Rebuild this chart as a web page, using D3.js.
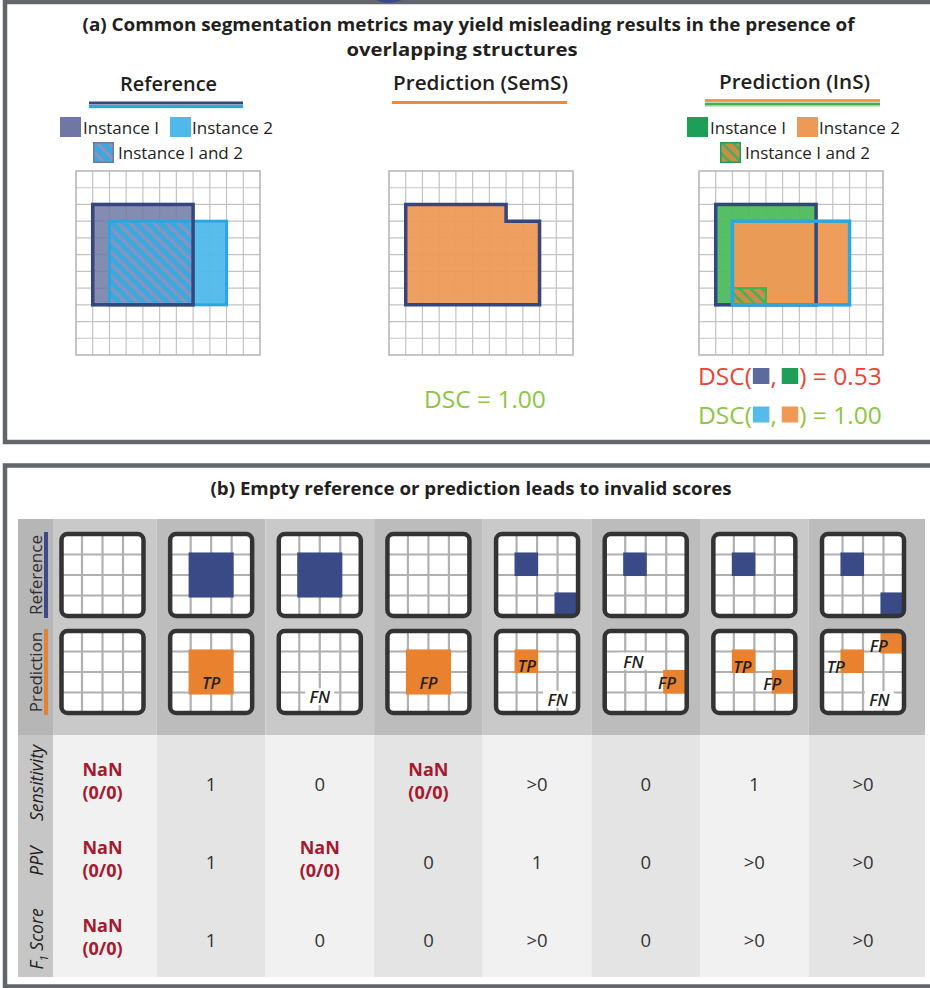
<!DOCTYPE html>
<html>
<head>
<meta charset="utf-8">
<script src="https://cdn.jsdelivr.net/npm/d3@7/dist/d3.min.js"></script>
<style>
html,body{margin:0;padding:0;background:#fff;}
svg{display:block;}
text{font-family:'Open Sans','DejaVu Sans',sans-serif;}
</style>
</head>
<body>
<svg id="chart" width="930" height="988"></svg>
<script>
// ---------------- DATA ----------------
const titleA = ["(a) Common segmentation metrics may yield misleading results in the presence of", "overlapping structures"];
const titleB = "(b) Empty reference or prediction leads to invalid scores";
const gridCells = 11;
const panelAHeaders = ["Reference", "Prediction (SemS)", "Prediction (InS)"];
const legendLabels = ["Instance I", "Instance 2", "Instance I and 2"];
const refInstances = [{x0:1,y0:2,x1:7,y1:8},{x0:2,y0:3,x1:9,y1:8}];
const semsOutline = [[1,2],[7,2],[7,3],[9,3],[9,8],[1,8]];
const insInstances = [{x0:1,y0:2,x1:7,y1:8},{x0:2,y0:3,x1:9,y1:8}];
const insOverlap = {x0:2,y0:7,x1:4,y1:8};
const dscSemS = "1.00";
const dscInS = ["0.53","1.00"];

const caseIds = [1,2,3,4,5,6,7,8];
const iconRows = ["Reference","Prediction"];
const refSquares = [
  [], [[0.9,0.9,2.2,2.2]], [[0.9,0.9,2.2,2.2]], [],
  [[0.9,0.9,1.15,1.15],[2.85,2.85,1.15,1.15]], [[0.9,0.9,1.15,1.15]],
  [[0.9,0.9,1.15,1.15]], [[0.9,0.9,1.15,1.15],[2.85,2.85,1.15,1.15]]
];
const predSquares = [
  [], [[0.9,0.9,2.2,2.2]], [], [[0.9,0.9,2.2,2.2]],
  [[0.9,0.9,1.15,1.15]], [[2.85,1.9,1.15,1.15]],
  [[0.9,0.9,1.15,1.15],[2.85,1.9,1.15,1.15]], [[0.9,0.9,1.15,1.15],[2.85,0.05,1.15,1.05]]
];
const predLabels = [
  [], [["TP",2,2.5]], [["FN",2,3.2]], [["FP",2,2.5]],
  [["TP",1.5,1.7],["FN",3,3.33]], [["FN",1.4,1.47],["FP",3.04,2.5]],
  [["TP",1.42,1.73],["FP",2.87,2.55]], [["TP",0.67,1.73],["FP",2.77,0.7],["FN",2.8,3.35]]
];
const metricNames = ["Sensitivity","PPV","F1 Score"];
const sensitivityVals = ["NaN (0/0)","1","0","NaN (0/0)",">0","0","1",">0"];
const ppvVals = ["NaN (0/0)","1","NaN (0/0)","0","1","0",">0",">0"];
const f1Vals = ["NaN (0/0)","1","0","0",">0","0",">0",">0"];

// ---------------- STYLE ----------------
const C = {
  frame:"#626569", navy:"#34467e", navyFill:"#6f78a5", lblue:"#2aa7df", lblueFill:"#4fb9e9",
  orange:"#ee9a56", orangeLine:"#ef8a3a", green:"#1e9f57", greenFill:"#4dbb5d", greenLine:"#3bb54a",
  red:"#ef4136", lime:"#8dc63f", iconBlue:"#394a86", iconOrange:"#e8822e", nan:"#a6192e", text:"#231f20"
};

const svg = d3.select("#chart");
const defs = svg.append("defs");
function hatch(id, base, stripe, period, w) {
  const p = defs.append("pattern").attr("id", id).attr("patternUnits","userSpaceOnUse")
    .attr("width", period).attr("height", period).attr("patternTransform","rotate(-45)");
  p.append("rect").attr("width",period).attr("height",period).attr("fill",base);
  p.append("rect").attr("width",w).attr("height",period).attr("fill",stripe);
}
hatch("hatchRef", "#3ea8de", "#8d92ba", 8.5, 3);
hatch("hatchIns", "#cf8c48", "#4aae57", 8, 2.8);

// ---------------- FRAMES ----------------
svg.append("rect").attr("x",5).attr("y",2).attr("width",960).attr("height",440)
  .attr("fill","none").attr("stroke",C.frame).attr("stroke-width",4.5);
svg.append("ellipse").attr("cx",389).attr("cy",-20).attr("rx",25).attr("ry",23).attr("fill","#3a4a8a");
svg.append("rect").attr("x",5).attr("y",465.5).attr("width",960).attr("height",521)
  .attr("fill","none").attr("stroke",C.frame).attr("stroke-width",4.5);

// ---------------- PANEL A ----------------
svg.append("text").attr("x",468.5).attr("y",31).attr("text-anchor","middle")
  .style("font-size","18px").style("font-weight",700).attr("fill",C.text)
  .attr("textLength",772).attr("lengthAdjust","spacingAndGlyphs").text(titleA[0]);
svg.append("text").attr("x",462).attr("y",56).attr("text-anchor","middle")
  .style("font-size","18px").style("font-weight",700).attr("fill",C.text)
  .attr("textLength",231).attr("lengthAdjust","spacingAndGlyphs").text(titleA[1]);

const headerPos = [{x:168.5,y:91,w:97},{x:480.5,y:90,w:175},{x:794.5,y:88.5,w:151}];
panelAHeaders.forEach((h,i)=>{
  svg.append("text").attr("x",headerPos[i].x).attr("y",headerPos[i].y).attr("text-anchor","middle")
    .style("font-size","20px").style("font-weight",600).attr("fill",C.text)
    .attr("textLength",headerPos[i].w).attr("lengthAdjust","spacingAndGlyphs").text(h);
});
// header underlines
svg.append("rect").attr("x",89).attr("y",101.5).attr("width",154).attr("height",3).attr("fill",C.navy);
svg.append("rect").attr("x",89).attr("y",105).attr("width",154).attr("height",3.2).attr("fill",C.lblue);
svg.append("rect").attr("x",392).attr("y",101).attr("width",175).attr("height",3).attr("fill",C.orangeLine);
svg.append("rect").attr("x",705).attr("y",99.2).attr("width",175).attr("height",2.6).attr("fill",C.orangeLine);
svg.append("rect").attr("x",705).attr("y",102.6).attr("width",175).attr("height",3).attr("fill",C.greenLine);
svg.append("rect").attr("x",705).attr("y",105.6).attr("width",175).attr("height",1).attr("fill","#a6dca0");

// legends
function legend(x1, x2, x3, col1, col2, hatchId, hatchStroke) {
  const g = svg.append("g").style("font-size","17px").attr("fill",C.text);
  g.append("rect").attr("x",x1).attr("y",117).attr("width",21).attr("height",20).attr("fill",col1);
  g.append("text").attr("x",x1+23).attr("y",134).text(legendLabels[0]);
  g.append("rect").attr("x",x2).attr("y",117).attr("width",21).attr("height",20).attr("fill",col2);
  g.append("text").attr("x",x2+22).attr("y",134).text(legendLabels[1]);
  g.append("rect").attr("x",x3+0.75).attr("y",142.75).attr("width",19.5).attr("height",19.5)
    .attr("fill","url(#"+hatchId+")").attr("stroke",hatchStroke).attr("stroke-width",1.5);
  g.append("text").attr("x",x3+25).attr("y",159).text(legendLabels[2]);
}
legend(60,170,93,C.navyFill,C.lblueFill,"hatchRef",C.navyFill);
legend(687,797,720,C.green,C.orange,"hatchIns",C.green);

// grids
const GRID = 184;
function drawGrid(ox, oy) {
  const g = svg.append("g").attr("transform",`translate(${ox},${oy})`);
  const s = d3.scaleLinear().domain([0,gridCells]).range([0,GRID]);
  g.append("rect").attr("width",GRID).attr("height",GRID).attr("fill","#fff");
  g.selectAll("line.v").data(d3.range(1,gridCells)).join("line")
    .attr("x1",d=>s(d)).attr("x2",d=>s(d)).attr("y1",0).attr("y2",GRID)
    .attr("stroke","#c3c3c3").attr("stroke-width",1.2);
  g.selectAll("line.h").data(d3.range(1,gridCells)).join("line")
    .attr("y1",d=>s(d)).attr("y2",d=>s(d)).attr("x1",0).attr("x2",GRID)
    .attr("stroke","#c3c3c3").attr("stroke-width",1.2);
  g.append("rect").attr("width",GRID).attr("height",GRID).attr("fill","none")
    .attr("stroke","#b3b3b3").attr("stroke-width",1.5);
  return {g, s};
}
function rectOf(g, s, r) {
  return g.append("rect").attr("x",s(r.x0)).attr("y",s(r.y0))
    .attr("width",s(r.x1)-s(r.x0)).attr("height",s(r.y1)-s(r.y0));
}
// Reference grid
{
  const {g,s} = drawGrid(76,171);
  rectOf(g,s,refInstances[0]).attr("fill",C.navyFill).attr("opacity",0.85);
  rectOf(g,s,refInstances[1]).attr("fill",C.lblueFill).attr("opacity",0.95);
  const ov = {x0:Math.max(refInstances[0].x0,refInstances[1].x0), y0:Math.max(refInstances[0].y0,refInstances[1].y0),
              x1:Math.min(refInstances[0].x1,refInstances[1].x1), y1:Math.min(refInstances[0].y1,refInstances[1].y1)};
  rectOf(g,s,ov).attr("fill","url(#hatchRef)");
  rectOf(g,s,refInstances[1]).attr("fill","none").attr("stroke",C.lblue).attr("stroke-width",3);
  rectOf(g,s,refInstances[0]).attr("fill","none").attr("stroke",C.navy).attr("stroke-width",3.5);
}
// SemS grid
{
  const {g,s} = drawGrid(389,171);
  const line = d3.line().x(d=>s(d[0])).y(d=>s(d[1]));
  g.append("path").attr("d",line(semsOutline)+"Z").attr("fill",C.orange).attr("opacity",0.95);
  g.append("path").attr("d",line(semsOutline)+"Z").attr("fill","none").attr("stroke",C.navy).attr("stroke-width",3.5);
}
// InS grid
{
  const {g,s} = drawGrid(699,171);
  rectOf(g,s,insInstances[0]).attr("fill",C.greenFill).attr("opacity",0.95);
  rectOf(g,s,insInstances[1]).attr("fill",C.orange).attr("opacity",0.97);
  rectOf(g,s,insInstances[0]).attr("fill","none").attr("stroke",C.navy).attr("stroke-width",3.5);
  rectOf(g,s,insOverlap).attr("fill","url(#hatchIns)").attr("stroke",C.greenLine).attr("stroke-width",2);
  rectOf(g,s,insInstances[1]).attr("fill","none").attr("stroke",C.lblue).attr("stroke-width",3.5);
}

// DSC texts
const DSC_FS = 24.5;
svg.append("text").attr("x",424).attr("y",408).style("font-size",DSC_FS+"px").attr("fill",C.lime)
  .text("DSC = " + dscSemS);
function dscLine(x, y, color, sw1, sw2, value) {
  const g = svg.append("g").attr("fill",color).style("font-size",DSC_FS+"px");
  let cx = x;
  const t1 = g.append("text").attr("x",cx).attr("y",y).text("DSC(");
  cx += t1.node().getComputedTextLength() + 1;
  g.append("rect").attr("x",cx).attr("y",y-17).attr("width",16.5).attr("height",16).attr("fill",sw1);
  cx += 17.5;
  const t2 = g.append("text").attr("x",cx).attr("y",y).text(",");
  cx += t2.node().getComputedTextLength() + 5;
  g.append("rect").attr("x",cx).attr("y",y-17).attr("width",16.5).attr("height",16).attr("fill",sw2);
  cx += 17.5;
  g.append("text").attr("x",cx).attr("y",y).text(") = " + value);
}
dscLine(698, 385, C.red, "#5c6a9c", C.green, dscInS[0]);
dscLine(698, 423.5, C.lime, "#55bbea", C.orange, dscInS[1]);

// ---------------- PANEL B ----------------
svg.append("text").attr("x",471).attr("y",495).attr("text-anchor","middle")
  .style("font-size","18.5px").style("font-weight",700).attr("fill",C.text)
  .attr("textLength",521).attr("lengthAdjust","spacingAndGlyphs").text(titleB);

const TABLE = {left:18, labelRight:53, right:925, top:519, mid:735, bottom:977};
const colX = d3.scalePoint().domain(caseIds).range([102.5, 863]);
const step = colX.step();
const iconY = d3.scalePoint().domain(iconRows).range([575, 672]);
const metricY = d3.scalePoint().domain(metricNames).range([783, 939]);

// column backgrounds
caseIds.forEach((id,i)=>{
  const x0 = i===0 ? TABLE.labelRight : colX(id)-step/2;
  const x1 = i===caseIds.length-1 ? TABLE.right : colX(id)+step/2;
  svg.append("rect").attr("x",x0).attr("y",TABLE.top).attr("width",x1-x0).attr("height",TABLE.mid-TABLE.top)
    .attr("fill", i%2===0 ? "#c9c9c9" : "#bcbcbc");
  svg.append("rect").attr("x",x0).attr("y",TABLE.mid).attr("width",x1-x0).attr("height",TABLE.bottom-TABLE.mid)
    .attr("fill", i%2===0 ? "#f1f1f1" : "#e4e4e4");
});
svg.append("rect").attr("x",TABLE.left).attr("y",TABLE.top).attr("width",TABLE.labelRight-TABLE.left)
  .attr("height",TABLE.mid-TABLE.top).attr("fill","#b6b6b6");
svg.append("rect").attr("x",TABLE.left).attr("y",TABLE.mid).attr("width",TABLE.labelRight-TABLE.left)
  .attr("height",TABLE.bottom-TABLE.mid).attr("fill","#c6c6c6");

// row labels (icons)
const barColors = {Reference:"#3c4a8c", Prediction:C.iconOrange};
iconRows.forEach(r=>{
  svg.append("text").attr("transform",`translate(35.5,${iconY(r)}) rotate(-90)`)
    .attr("text-anchor","middle").attr("dominant-baseline","central")
    .style("font-size","17px").style("font-weight",500).attr("fill","#2e2e2e").text(r);
  svg.append("rect").attr("x",44).attr("y",iconY(r)-43).attr("width",4).attr("height",86).attr("fill",barColors[r]);
});
// metric labels
metricNames.forEach(m=>{
  const t = svg.append("text").attr("transform",`translate(35.5,${metricY(m)}) rotate(-90)`)
    .attr("text-anchor","middle").attr("dominant-baseline","central")
    .style("font-size","17.5px").style("font-style","italic").style("font-weight",500).attr("fill","#222");
  if (m === "F1 Score") {
    t.append("tspan").text("F");
    t.append("tspan").attr("baseline-shift","sub").style("font-size","11px").text("1");
    t.append("tspan").text(" Score");
  } else t.text(m);
});

// icons
const ICON = 82;
function drawIcon(cx, cy, squares, fill, labels) {
  const g = svg.append("g").attr("transform",`translate(${cx-ICON/2},${cy-ICON/2})`);
  const s = d3.scaleLinear().domain([0,4]).range([0,ICON]);
  g.append("rect").attr("width",ICON).attr("height",ICON).attr("rx",6).attr("fill","#fff");
  g.selectAll("line.v").data([1,2,3]).join("line")
    .attr("x1",d=>s(d)).attr("x2",d=>s(d)).attr("y1",0).attr("y2",ICON)
    .attr("stroke","#b0b0b0").attr("stroke-width",2.2);
  g.selectAll("line.h").data([1,2,3]).join("line")
    .attr("y1",d=>s(d)).attr("y2",d=>s(d)).attr("x1",0).attr("x2",ICON)
    .attr("stroke","#b0b0b0").attr("stroke-width",2.2);
  squares.forEach(q=>{
    g.append("rect").attr("x",s(q[0])).attr("y",s(q[1])).attr("width",s(q[2])).attr("height",s(q[3]))
      .attr("fill",fill);
  });
  (labels||[]).forEach(l=>{
    if (l[0]==="FN") {
      g.append("rect").attr("x",s(l[1])-14.5).attr("y",s(l[2])-8.5).attr("width",29).attr("height",17).attr("fill","#fff");
    }
    g.append("text").attr("x",s(l[1])).attr("y",s(l[2])).attr("text-anchor","middle")
      .attr("dominant-baseline","central").style("font-size","16.5px").style("font-style","italic")
      .style("font-weight",600).attr("fill",C.text).text(l[0]);
  });
  g.append("rect").attr("width",ICON).attr("height",ICON).attr("rx",6).attr("fill","none")
    .attr("stroke","#333").attr("stroke-width",4.5);
}
caseIds.forEach((id,i)=>{
  drawIcon(colX(id), iconY("Reference"), refSquares[i], C.iconBlue, []);
  drawIcon(colX(id), iconY("Prediction"), predSquares[i], C.iconOrange, predLabels[i]);
});

// values
const metricVals = [sensitivityVals, ppvVals, f1Vals];
metricNames.forEach((m,mi)=>{
  caseIds.forEach((id,i)=>{
    const v = metricVals[mi][i];
    const x = colX(id), y = metricY(m);
    if (v.startsWith("NaN")) {
      const parts = v.split(" ");
      const t = svg.append("text").attr("text-anchor","middle").style("font-size","18px")
        .style("font-weight",700).attr("fill",C.nan);
      t.append("tspan").attr("x",x).attr("y",y-7).text(parts[0]);
      t.append("tspan").attr("x",x).attr("y",y+16).text(parts[1]);
    } else {
      svg.append("text").attr("x",x).attr("y",y).attr("text-anchor","middle").attr("dominant-baseline","central")
        .style("font-size","18.5px").attr("fill","#333").text(v);
    }
  });
});
</script>
</body>
</html>
